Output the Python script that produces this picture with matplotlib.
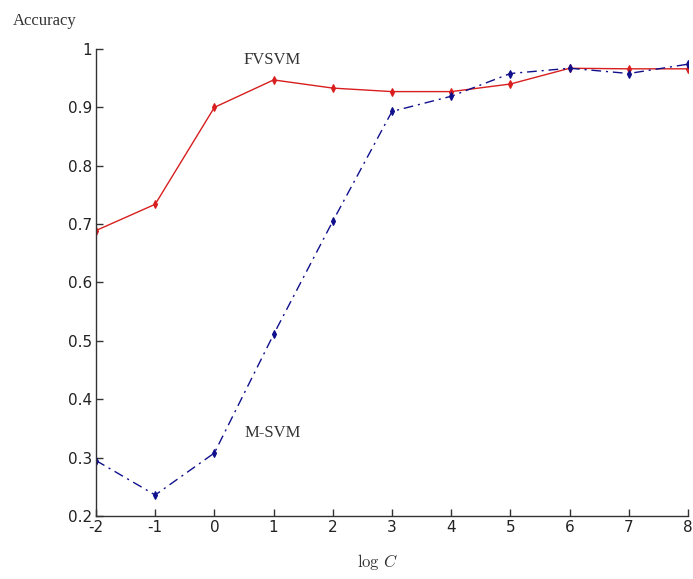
import matplotlib
matplotlib.use("Agg")
import matplotlib.pyplot as plt

log_c = [-2, -1, 0, 1, 2, 3, 4, 5, 6, 7, 8]
fvsvm_acc = [0.689, 0.734, 0.900, 0.947, 0.933, 0.927, 0.927, 0.940, 0.967, 0.966, 0.966]
msvm_acc = [0.295, 0.236, 0.308, 0.511, 0.705, 0.893, 0.919, 0.958, 0.967, 0.958, 0.974]

x_ticks = [-2, -1, 0, 1, 2, 3, 4, 5, 6, 7, 8]
y_ticks = [0.2, 0.3, 0.4, 0.5, 0.6, 0.7, 0.8, 0.9, 1.0]
y_tick_labels = ["0.2", "0.3", "0.4", "0.5", "0.6", "0.7", "0.8", "0.9", "1"]

plt.rcParams["mathtext.fontset"] = "cm"
plt.rcParams["axes.unicode_minus"] = False

fig = plt.figure(figsize=(6.93, 5.79), dpi=100)
ax = fig.add_axes([0.1385, 0.1088, 0.8543, 0.8066])

ax.plot(log_c, fvsvm_acc, color="#d81e1e", linestyle="-", linewidth=1.0,
        marker="d", markersize=4, markeredgewidth=0.8)
ax.plot(log_c, msvm_acc, color="#10108c", linestyle="-.", linewidth=1.0,
        marker="d", markersize=4, markeredgewidth=0.8,
        dashes=[7, 3.5, 1.5, 3.5])

ax.set_xlim(-2, 8)
ax.set_ylim(0.2, 1.0)
ax.set_xticks(x_ticks)
ax.set_yticks(y_ticks)
ax.set_yticklabels(y_tick_labels)

for side in ["top", "right"]:
    ax.spines[side].set_visible(False)
for side in ["left", "bottom"]:
    ax.spines[side].set_linewidth(1.0)
    ax.spines[side].set_color("#333333")

ax.tick_params(direction="in", length=5, width=1, colors="#333333",
               labelsize=11, pad=3)
for lab in ax.get_xticklabels() + ax.get_yticklabels():
    lab.set_color("#222222")

ax.text(0.97, 0.981, "FVSVM", ha="center", va="center",
        fontsize=12, family="Liberation Serif", color="#333333")
ax.text(0.99, 0.342, "M-SVM", ha="center", va="center",
        fontsize=12, family="Liberation Serif", color="#333333")

fig.text(13 / 693, 1 - 21 / 579, "Accuracy", ha="left", va="center",
         fontsize=12, family="Liberation Serif", color="#333333")
fig.text(377 / 693, 1 - 562 / 579, r"$\log\,C$", ha="center", va="center",
         fontsize=12, color="#333333")

fig.savefig("out.png", dpi=100)
